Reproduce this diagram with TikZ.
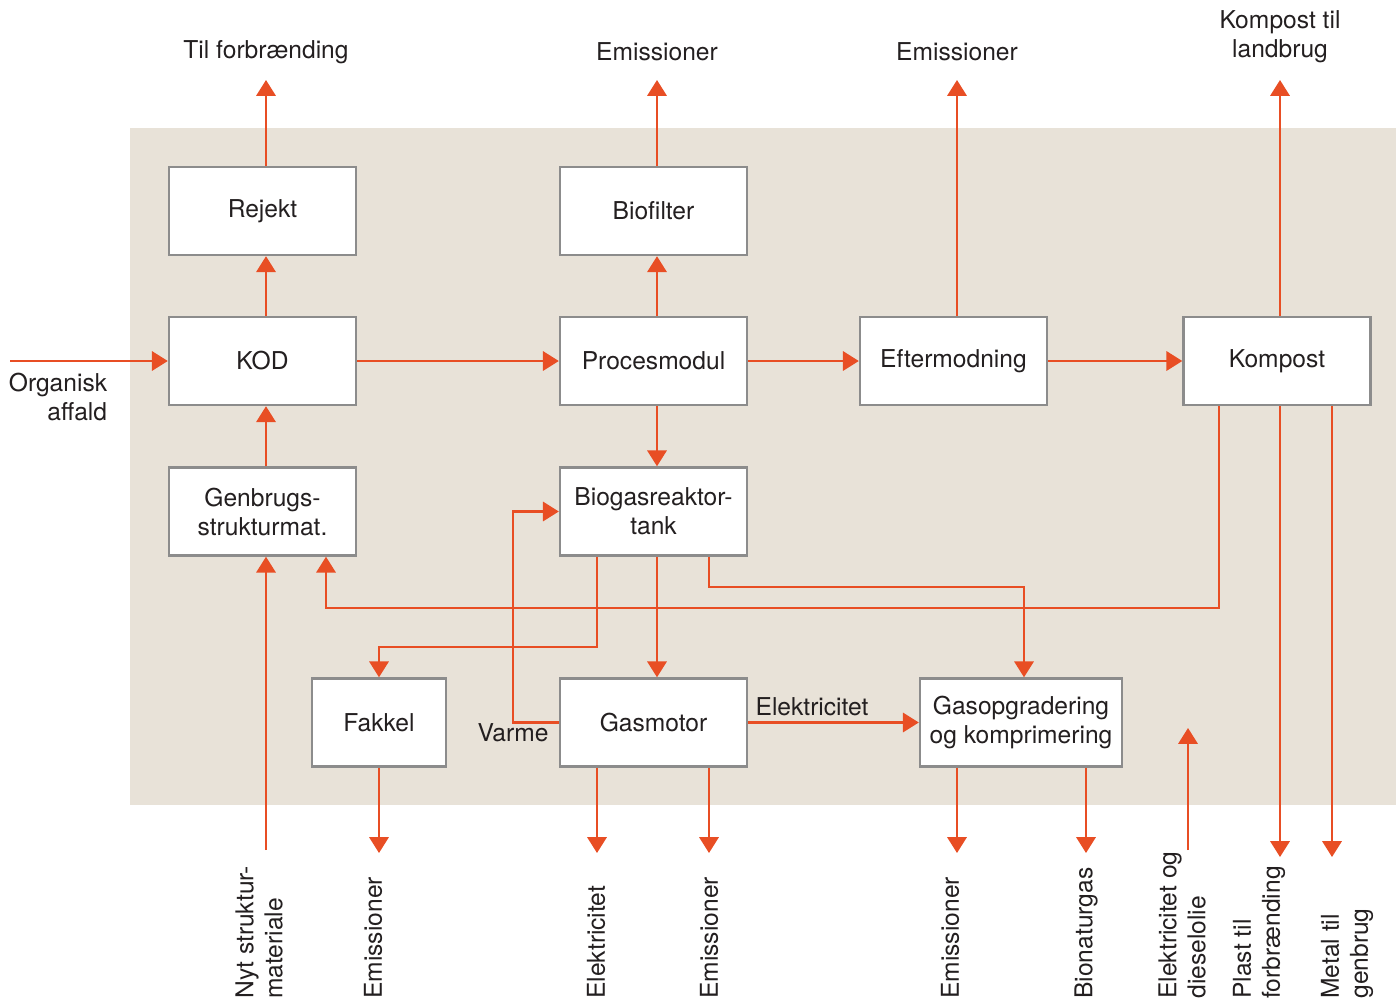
\documentclass[tikz,border=0pt]{standalone}
\usepackage{fontspec}
\setmainfont{TeX Gyre Heros}
\usetikzlibrary{arrows.meta}
\definecolor{flowred}{RGB}{232,78,36}
\definecolor{sand}{RGB}{232,226,216}
\definecolor{boxgray}{RGB}{140,140,140}
\definecolor{ink}{RGB}{35,31,32}
\tikzset {>={Triangle[width=11pt,length=9pt]}}

\begin{document}
\begin{tikzpicture}[x=0.02cm,y=-0.02cm,
  every node/.style={font=\fontsize{14}{16.5}\selectfont,text=ink},
  box/.style={draw=boxgray,line width=1.4pt,fill=white,minimum width=3.74cm,
    minimum height=1.76cm,align=center,inner sep=0pt},
  flow/.style={draw=flowred,line width=1.2pt},
  lbl/.style={inner sep=0pt,align=center},
  vlbl/.style={inner sep=0pt,align=left,rotate=90,anchor=west}]

\useasboundingbox (0,0) rectangle (1396,1001);

% Background area
\fill[sand] (130,128) rectangle (1396,805);

% Place boxes
\node[box] (Rejekt) at (262.5,211) {Rejekt};
\node[box] (Biofilter) at (653.5,211) {Biofilter};
\node[box] (KOD) at (262.5,361) {KOD};
\node[box] (Proces) at (653.5,361) {Procesmodul};
\node[box] (Efter) at (953.5,361) {Eftermodning};
\node[box] (Kompost) at (1277,361) {Kompost};
\node[box] (Genbrug) at (262.5,511.5) {Genbrugs-\\strukturmat.};
\node[box] (Biogas) at (653.5,511.5) {Biogasreaktor-\\tank};
\node[box,minimum width=2.68cm] (Fakkel) at (379,722.5) {Fakkel};
\node[box] (Gasmotor) at (653.5,722.5) {Gasmotor};
\node[box,minimum width=4.04cm] (Gasopg) at (1021,722.5) {Gasopgradering\\og komprimering};

% Free ends of the connectors
\coordinate (in0) at (10,361);
\coordinate (u1) at (266,80);
\coordinate (u2) at (657,80);
\coordinate (u3) at (957,80);
\coordinate (u4) at (1280,80);
\coordinate (i1) at (266,850);
\coordinate (i2) at (1188,850);
\coordinate (i3) at (1188,728);
\coordinate (o1) at (379,853);
\coordinate (o2) at (597,853);
\coordinate (o3) at (709,853);
\coordinate (o4) at (957,853);
\coordinate (o5) at (1086,853);
\coordinate (o6) at (1280,857);
\coordinate (o7) at (1332,857);

% Bends
\coordinate (bA) at (597,647);
\coordinate (bB) at (709,587);
\coordinate (bC) at (1024,587);
\coordinate (kA) at (1219,608);
\coordinate (kB) at (326,608);
\coordinate (vA) at (513,722.5);

% Main line
\draw[flow,->] (in0) -- (KOD.west);
\draw[flow,->] (KOD) -- (Proces);
\draw[flow,->] (Proces) -- (Efter);
\draw[flow,->] (Efter) -- (Kompost);
\draw[flow,->] (Genbrug.north -| u1) -- (KOD.south -| u1);
\draw[flow,->] (KOD.north -| u1) -- (Rejekt.south -| u1);
\draw[flow,->] (Proces.north -| u2) -- (Biofilter.south -| u2);
\draw[flow,->] (Proces.south -| u2) -- (Biogas.north -| u2);
\draw[flow,->] (Biogas.south -| u2) -- (Gasmotor.north -| u2);

% Outputs upwards
\draw[flow,->] (Rejekt.north -| u1) -- (u1);
\draw[flow,->] (Biofilter.north -| u2) -- (u2);
\draw[flow,->] (Efter.north -| u3) -- (u3);
\draw[flow,->] (Kompost.north -| u4) -- (u4);

% Return of structure material
\draw[flow,->] (Kompost.south -| kA) -- (kA) -- (kB) -- (Genbrug.south -| kB);

% Biogas to Fakkel and Gasopgradering
\draw[flow,->] (Biogas.south -| bA) -- (bA) -| (Fakkel.north);
\draw[flow,->] (Biogas.south -| bB) -- (bB) -- (bC) -- (Gasopg.north -| bC);

% Heat back to the reactor
\draw[flow,->] (Gasmotor.west) -- (vA) |- (Biogas.west);
\node[lbl] (varme) at (513,733) {Varme};

% Power to Gasopgradering
\draw[flow,->] (Gasmotor.east) -- (Gasopg.west);
\node[lbl] (elek) at (812,707) {Elektricitet};

% Inputs from below
\draw[flow,->] (i1) -- (Genbrug.south -| i1);
\draw[flow,->] (i2) -- (i3);

% Outputs downwards
\draw[flow,->] (Fakkel.south) -- (o1);
\draw[flow,->] (Gasmotor.south -| o2) -- (o2);
\draw[flow,->] (Gasmotor.south -| o3) -- (o3);
\draw[flow,->] (Gasopg.south -| o4) -- (o4);
\draw[flow,->] (Gasopg.south -| o5) -- (o5);
\draw[flow,->] (Kompost.south -| o6) -- (o6);
\draw[flow,->] (Kompost.south -| o7) -- (o7);

% Labels at the top
\node[lbl] (tTil) at (266,52) {Til forbrænding};
\node[lbl] (tEm1) at (657,52) {Emissioner};
\node[lbl] (tEm2) at (957,52) {Emissioner};
\node[lbl] (tKomp) at (1280,37) {Kompost til\\landbrug};
\node[lbl,align=right] (tOrg) at (58,397) {Organisk\\\hfill affald};

% Labels at the bottom
\node[vlbl] (bNyt) at (259,999) {Nyt struktur-\\materiale};
\node[vlbl] (bEm1) at (373,999) {Emissioner};
\node[vlbl] (bEl) at (596,999) {Elektricitet};
\node[vlbl] (bEm2) at (709,999) {Emissioner};
\node[vlbl] (bEm3) at (950,999) {Emissioner};
\node[vlbl] (bBio) at (1086,999) {Bionaturgas};
\node[vlbl] (bDie) at (1182,999) {Elektricitet og\\dieselolie};
\node[vlbl] (bPla) at (1259,999) {Plast til\\forbrænding};
\node[vlbl] (bMet) at (1347,999) {Metal til\\genbrug};
\end{tikzpicture}
\end{document}
